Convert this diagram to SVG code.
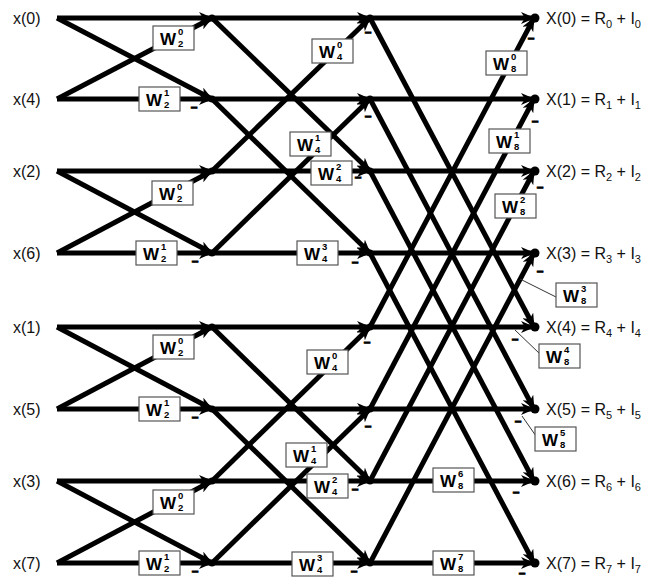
<svg xmlns="http://www.w3.org/2000/svg" width="648" height="581" viewBox="0 0 648 581">
<defs>
<marker id="ah" viewBox="0 0 14 12" refX="13" refY="6" markerWidth="14" markerHeight="12" markerUnits="userSpaceOnUse" orient="auto"><path d="M0,0 L14,6 L0,12 L4,6 z" fill="#000"/></marker>
<style>
.c path{stroke:#000;stroke-width:5;fill:none;marker-end:url(#ah)}
.lead{stroke:#333;stroke-width:1;fill:none}
.box rect{fill:#fff;stroke:#555;stroke-width:1.2}
.w{font-family:"Liberation Sans",Arial,sans-serif;font-weight:bold;font-size:17px;fill:#000}
.d{font-family:"Liberation Sans",Arial,sans-serif;font-weight:bold;font-size:9.5px;fill:#000}
.lbl{font-family:"Liberation Sans",Arial,sans-serif;font-size:16px;fill:#111}
.neg{font-family:"Liberation Sans",Arial,sans-serif;font-weight:bold;font-size:12px;fill:#000;stroke:#000;stroke-width:0.8;text-anchor:middle}
.dot{fill:#000}
</style>
</defs>
<rect width="648" height="581" fill="#fff"/>

<g id="connectors" class="c">
<path d="M57,18 L212,18"/><path d="M57,18 L212,99"/><path d="M57,99 L212,18"/><path d="M57,99 L212,99"/>
<path d="M57,171 L212,171"/><path d="M57,171 L212,253"/><path d="M57,253 L212,171"/><path d="M57,253 L212,253"/>
<path d="M57,327 L212,327"/><path d="M57,327 L212,409"/><path d="M57,409 L212,327"/><path d="M57,409 L212,409"/>
<path d="M57,481 L212,481"/><path d="M57,481 L212,563"/><path d="M57,563 L212,481"/><path d="M57,563 L212,563"/>
<path d="M212,18 L370,18"/><path d="M212,18 L370,171"/><path d="M212,99 L370,99"/><path d="M212,99 L370,253"/>
<path d="M212,171 L370,18"/><path d="M212,171 L370,171"/><path d="M212,253 L370,99"/><path d="M212,253 L370,253"/>
<path d="M212,327 L370,327"/><path d="M212,327 L370,481"/><path d="M212,409 L370,409"/><path d="M212,409 L370,563"/>
<path d="M212,481 L370,327"/><path d="M212,481 L370,481"/><path d="M212,563 L370,409"/><path d="M212,563 L370,563"/>
<path d="M370,18 L534,18"/><path d="M370,18 L534,327"/><path d="M370,327 L534,18"/><path d="M370,327 L534,327"/>
<path d="M370,99 L534,99"/><path d="M370,99 L534,409"/><path d="M370,409 L534,99"/><path d="M370,409 L534,409"/>
<path d="M370,171 L534,171"/><path d="M370,171 L534,481"/><path d="M370,481 L534,171"/><path d="M370,481 L534,481"/>
<path d="M370,253 L534,253"/><path d="M370,253 L534,563"/><path d="M370,563 L534,253"/><path d="M370,563 L534,563"/>
</g>

<g id="leaders">
<path class="lead" d="M520,279 L556,297"/>
<path class="lead" d="M515,330 L540,354"/>
<path class="lead" d="M522,416 L536,436"/>
</g>

<g id="inputs">
<g id="in0"><text class="lbl" x="13" y="24">x(0)</text></g>
<g id="in4"><text class="lbl" x="13" y="105">x(4)</text></g>
<g id="in2"><text class="lbl" x="13" y="177">x(2)</text></g>
<g id="in6"><text class="lbl" x="13" y="259">x(6)</text></g>
<g id="in1"><text class="lbl" x="13" y="333">x(1)</text></g>
<g id="in5"><text class="lbl" x="13" y="415">x(5)</text></g>
<g id="in3"><text class="lbl" x="13" y="487">x(3)</text></g>
<g id="in7"><text class="lbl" x="13" y="569">x(7)</text></g>
</g>

<g id="stage1">
<g id="s1n0"><circle class="dot" cx="212" cy="18" r="3.5"/></g>
<g id="s1n1"><circle class="dot" cx="212" cy="99" r="3.5"/></g>
<g id="s1n2"><circle class="dot" cx="212" cy="171" r="3.5"/></g>
<g id="s1n3"><circle class="dot" cx="212" cy="253" r="3.5"/></g>
<g id="s1n4"><circle class="dot" cx="212" cy="327" r="3.5"/></g>
<g id="s1n5"><circle class="dot" cx="212" cy="409" r="3.5"/></g>
<g id="s1n6"><circle class="dot" cx="212" cy="481" r="3.5"/></g>
<g id="s1n7"><circle class="dot" cx="212" cy="563" r="3.5"/></g>
</g>

<g id="stage2">
<g id="s2n0"><circle class="dot" cx="370" cy="18" r="3.5"/></g>
<g id="s2n1"><circle class="dot" cx="370" cy="99" r="3.5"/></g>
<g id="s2n2"><circle class="dot" cx="370" cy="171" r="3.5"/></g>
<g id="s2n3"><circle class="dot" cx="370" cy="253" r="3.5"/></g>
<g id="s2n4"><circle class="dot" cx="370" cy="327" r="3.5"/></g>
<g id="s2n5"><circle class="dot" cx="370" cy="409" r="3.5"/></g>
<g id="s2n6"><circle class="dot" cx="370" cy="481" r="3.5"/></g>
<g id="s2n7"><circle class="dot" cx="370" cy="563" r="3.5"/></g>
</g>

<g id="outputs">
<g id="out0"><circle class="dot" cx="535" cy="18" r="4.5"/><text class="lbl" x="546" y="24">X(0) = R<tspan font-size="11" dy="4">0</tspan><tspan dy="-4"> + I</tspan><tspan font-size="11" dy="4">0</tspan></text></g>
<g id="out1"><circle class="dot" cx="535" cy="99" r="4.5"/><text class="lbl" x="546" y="105">X(1) = R<tspan font-size="11" dy="4">1</tspan><tspan dy="-4"> + I</tspan><tspan font-size="11" dy="4">1</tspan></text></g>
<g id="out2"><circle class="dot" cx="535" cy="171" r="4.5"/><text class="lbl" x="546" y="177">X(2) = R<tspan font-size="11" dy="4">2</tspan><tspan dy="-4"> + I</tspan><tspan font-size="11" dy="4">2</tspan></text></g>
<g id="out3"><circle class="dot" cx="535" cy="253" r="4.5"/><text class="lbl" x="546" y="259">X(3) = R<tspan font-size="11" dy="4">3</tspan><tspan dy="-4"> + I</tspan><tspan font-size="11" dy="4">3</tspan></text></g>
<g id="out4"><circle class="dot" cx="535" cy="327" r="4.5"/><text class="lbl" x="546" y="333">X(4) = R<tspan font-size="11" dy="4">4</tspan><tspan dy="-4"> + I</tspan><tspan font-size="11" dy="4">4</tspan></text></g>
<g id="out5"><circle class="dot" cx="535" cy="409" r="4.5"/><text class="lbl" x="546" y="415">X(5) = R<tspan font-size="11" dy="4">5</tspan><tspan dy="-4"> + I</tspan><tspan font-size="11" dy="4">5</tspan></text></g>
<g id="out6"><circle class="dot" cx="535" cy="481" r="4.5"/><text class="lbl" x="546" y="487">X(6) = R<tspan font-size="11" dy="4">6</tspan><tspan dy="-4"> + I</tspan><tspan font-size="11" dy="4">6</tspan></text></g>
<g id="out7"><circle class="dot" cx="535" cy="563" r="4.5"/><text class="lbl" x="546" y="569">X(7) = R<tspan font-size="11" dy="4">7</tspan><tspan dy="-4"> + I</tspan><tspan font-size="11" dy="4">7</tspan></text></g>
</g>

<g id="weights" class="box">
<g id="w1a0"><rect x="153" y="26" width="41" height="24"/><text class="w" x="160" y="45">W</text><text class="d" x="178" y="35">0</text><text class="d" x="178" y="47">2</text></g>
<g id="w1a1"><rect x="139" y="87" width="41" height="24"/><text class="w" x="146" y="106">W</text><text class="d" x="164" y="96">1</text><text class="d" x="164" y="108">2</text></g>
<g id="w1b0"><rect x="152" y="181" width="41" height="24"/><text class="w" x="159" y="200">W</text><text class="d" x="177" y="190">0</text><text class="d" x="177" y="202">2</text></g>
<g id="w1b1"><rect x="136" y="241" width="41" height="24"/><text class="w" x="143" y="260">W</text><text class="d" x="161" y="250">1</text><text class="d" x="161" y="262">2</text></g>
<g id="w1c0"><rect x="153" y="335" width="41" height="24"/><text class="w" x="160" y="354">W</text><text class="d" x="178" y="344">0</text><text class="d" x="178" y="356">2</text></g>
<g id="w1c1"><rect x="139" y="397" width="41" height="24"/><text class="w" x="146" y="416">W</text><text class="d" x="164" y="406">1</text><text class="d" x="164" y="418">2</text></g>
<g id="w1d0"><rect x="153" y="490" width="41" height="24"/><text class="w" x="160" y="509">W</text><text class="d" x="178" y="499">0</text><text class="d" x="178" y="511">2</text></g>
<g id="w1d1"><rect x="139" y="551" width="41" height="24"/><text class="w" x="146" y="570">W</text><text class="d" x="164" y="560">1</text><text class="d" x="164" y="572">2</text></g>

<g id="w2a0"><rect x="312" y="39" width="41" height="24"/><text class="w" x="319" y="58">W</text><text class="d" x="337" y="48">0</text><text class="d" x="337" y="60">4</text></g>
<g id="w2a1"><rect x="290" y="132" width="41" height="24"/><text class="w" x="297" y="151">W</text><text class="d" x="315" y="141">1</text><text class="d" x="315" y="153">4</text></g>
<g id="w2a2"><rect x="311" y="161" width="41" height="24"/><text class="w" x="318" y="180">W</text><text class="d" x="336" y="170">2</text><text class="d" x="336" y="182">4</text></g>
<g id="w2a3"><rect x="297" y="241" width="41" height="24"/><text class="w" x="304" y="260">W</text><text class="d" x="322" y="250">3</text><text class="d" x="322" y="262">4</text></g>
<g id="w2b0"><rect x="307" y="350" width="41" height="24"/><text class="w" x="314" y="369">W</text><text class="d" x="332" y="359">0</text><text class="d" x="332" y="371">4</text></g>
<g id="w2b1"><rect x="286" y="443" width="41" height="24"/><text class="w" x="293" y="462">W</text><text class="d" x="311" y="452">1</text><text class="d" x="311" y="464">4</text></g>
<g id="w2b2"><rect x="307" y="474" width="41" height="24"/><text class="w" x="314" y="493">W</text><text class="d" x="332" y="483">2</text><text class="d" x="332" y="495">4</text></g>
<g id="w2b3"><rect x="292" y="552" width="41" height="24"/><text class="w" x="299" y="571">W</text><text class="d" x="317" y="561">3</text><text class="d" x="317" y="573">4</text></g>

<g id="w3_0"><rect x="486" y="51" width="41" height="24"/><text class="w" x="493" y="70">W</text><text class="d" x="511" y="60">0</text><text class="d" x="511" y="72">8</text></g>
<g id="w3_1"><rect x="489" y="129" width="41" height="24"/><text class="w" x="496" y="148">W</text><text class="d" x="514" y="138">1</text><text class="d" x="514" y="150">8</text></g>
<g id="w3_2"><rect x="495" y="194" width="41" height="24"/><text class="w" x="502" y="213">W</text><text class="d" x="520" y="203">2</text><text class="d" x="520" y="215">8</text></g>
<g id="w3_3"><rect x="556" y="283" width="41" height="24"/><text class="w" x="563" y="302">W</text><text class="d" x="581" y="292">3</text><text class="d" x="581" y="304">8</text></g>
<g id="w3_4"><rect x="539" y="344" width="41" height="24"/><text class="w" x="546" y="363">W</text><text class="d" x="564" y="353">4</text><text class="d" x="564" y="365">8</text></g>
<g id="w3_5"><rect x="535" y="427" width="41" height="24"/><text class="w" x="542" y="446">W</text><text class="d" x="560" y="436">5</text><text class="d" x="560" y="448">8</text></g>
<g id="w3_6"><rect x="433" y="468" width="41" height="24"/><text class="w" x="440" y="487">W</text><text class="d" x="458" y="477">6</text><text class="d" x="458" y="489">8</text></g>
<g id="w3_7"><rect x="433" y="551" width="41" height="24"/><text class="w" x="440" y="570">W</text><text class="d" x="458" y="560">7</text><text class="d" x="458" y="572">8</text></g>
</g>

<g id="signs">
<text class="neg" x="194" y="111">–</text><text class="neg" x="195" y="265">–</text><text class="neg" x="195" y="421">–</text><text class="neg" x="195" y="575">–</text>
<text class="neg" x="368" y="36">–</text><text class="neg" x="368" y="120">–</text><text class="neg" x="358" y="181">–</text><text class="neg" x="355" y="266">–</text>
<text class="neg" x="367" y="346">–</text><text class="neg" x="368" y="430">–</text><text class="neg" x="355" y="493">–</text><text class="neg" x="354" y="575">–</text>
<text class="neg" x="531" y="42">–</text><text class="neg" x="535" y="125">–</text><text class="neg" x="540" y="191">–</text><text class="neg" x="540" y="275">–</text>
<text class="neg" x="515" y="343">–</text><text class="neg" x="518" y="425">–</text><text class="neg" x="516" y="496">–</text><text class="neg" x="522" y="577">–</text>
</g>
</svg>
